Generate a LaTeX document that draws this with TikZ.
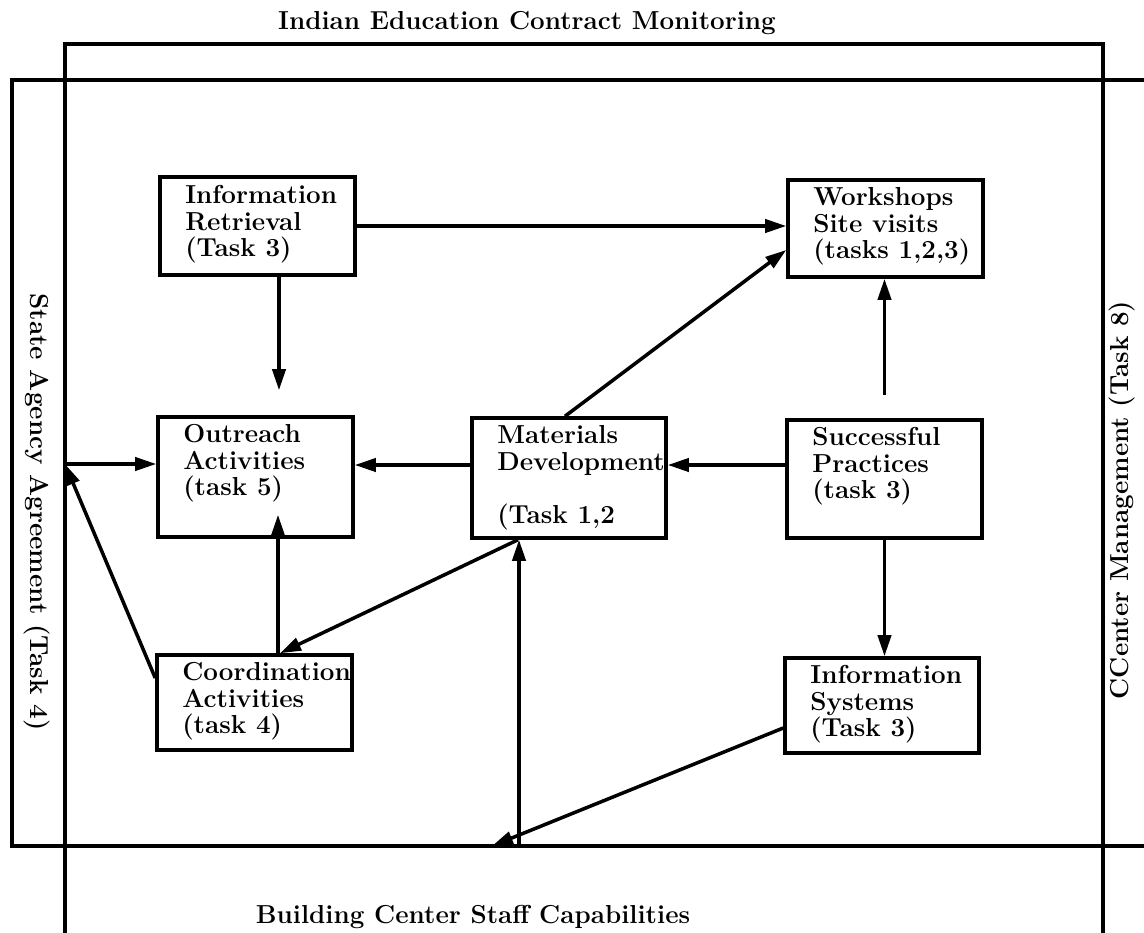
\documentclass[tikz,border=0pt]{standalone}
\usetikzlibrary{arrows.meta,calc,fit}
\begin{document}
\begin{tikzpicture}[x=0.02cm,y=-0.02cm,
  box/.style={draw, line width=2pt, inner sep=0pt},
  txt/.style={anchor=north west, inner sep=0pt, align=left, font=\fontsize{14.8}{15.2}\selectfont\bfseries},
  lbl/.style={inner sep=0pt, font=\fontsize{14.8}{15.2}\selectfont\bfseries},
  conn/.style={line width=2pt, -{Triangle[length=12pt,width=7.5pt]}},
  frm/.style={line width=1.8pt}]
\useasboundingbox (0,0) rectangle (1144,933);
% frames
\draw[frm] (65,933) -- (65,44) -- (1103,44) -- (1103,933);
\draw[frm] (1144,80) -- (12,80) -- (12,846) -- (1144,846);
\node[lbl] (t1) at (527,23) {Indian Education Contract Monitoring};
\node[lbl] (t2) at (473,917) {Building Center Staff Capabilities};
\node[lbl, rotate=-90] (t3) at (37,512) {State Agency Agreement (Task 4)};
\node[lbl, rotate=90] (t4) at (1122,500) {CCenter Management (Task 8)};
% boxes
\node[box, fit={(160,177) (355,275)}] (ir) {};
\node[box, fit={(158,417) (353,537)}] (or) {};
\node[box, fit={(472,418) (666,538)}] (md) {};
\node[box, fit={(788,180) (983,277)}] (ws) {};
\node[box, fit={(787,420) (982,538)}] (sp) {};
\node[box, fit={(785,658) (979,753)}] (is) {};
\node[box, fit={(157,655) (352,750)}] (co) {};
% texts
\node[txt] (irt) at (185,185) {Information\\Retrieval\\(Task 3)};
\node[txt] (ort) at (183,424) {Outreach\\Activities\\(task 5)};
\node[txt] (mdt) at (497,425) {Materials\\Development\\[15pt](Task 1,2};
\node[txt] (wst) at (813,187) {Workshops\\Site visits\\(tasks 1,2,3)};
\node[txt] (spt) at (812,427) {Successful\\Practices\\(task 3)};
\node[txt] (ist) at (810,665) {Information\\Systems\\(Task 3)};
\node[txt] (cot) at (182,662) {Coordination\\Activities\\(task 4)};
% free ends
\coordinate (sa) at (65,464);
\coordinate (b1) at (519,846);
\coordinate (b2) at (492,846);
% connectors
\draw[conn] (ir.east) -- (ir.east -| ws.west);
\draw[conn, shorten >=0.5cm] ([xshift=0.43cm]ir.south) -- ([xshift=0.43cm]ir.south |- or.north);
\draw[conn] ([yshift=0.26cm]md.west) -- ([yshift=0.26cm]md.west -| or.east);
\draw[conn] ([yshift=0.28cm]sp.west) -- ([yshift=0.28cm]sp.west -| md.east);
\draw[conn] (sp.south) -- (sp.south |- is.north);
\draw[conn, shorten <=0.46cm] (sp.north) -- (sp.north |- ws.south);
\draw[conn] ([xshift=-0.08cm]md.north) -- ([yshift=-0.43cm]ws.west);
\draw[conn, shorten >=-0.48cm] ([xshift=0.47cm]co.north) -- ([xshift=0.47cm]co.north |- or.south);
\draw[conn] ([xshift=-1.02cm]md.south) -- ([xshift=0.51cm]co.north);
\draw[conn] (b1) -- (b1 |- md.south);
\draw[conn] ([yshift=-0.45cm]is.west) -- (b2);
\draw[conn] ([yshift=0.49cm]co.west) -- (sa);
\draw[conn] (sa) -- (sa -| or.west);
\end{tikzpicture}
\end{document}
